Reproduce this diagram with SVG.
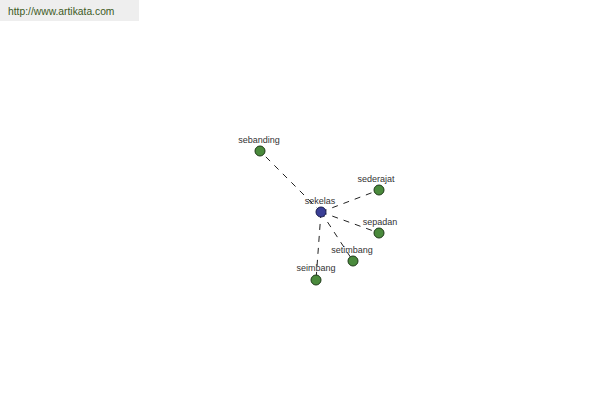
<svg xmlns="http://www.w3.org/2000/svg" width="600" height="400" viewBox="0 0 600 400">
<style>
.lbl{font-family:"Liberation Sans",Arial,sans-serif;font-size:9px;fill:#333;text-anchor:middle}
.edge{stroke:#222;stroke-width:1;stroke-dasharray:6,6;fill:none}
.leaf{fill:#4a8a3c;stroke:#1e3a18;stroke-width:1}
.hub{fill:#3a3f96;stroke:#1a1c50;stroke-width:1}
</style>
<rect width="600" height="400" fill="#fff"/>
<g id="watermark">
<rect x="0" y="0" width="139" height="21" fill="#eeeeee"/>
<text x="8" y="15" font-family="'Liberation Sans',Arial,sans-serif" font-size="10.3" fill="#3d5a1e">http://www.artikata.com</text>
</g>
<g id="connectors">
<line class="edge" x1="321" y1="212" x2="260" y2="151"/>
<line class="edge" x1="321" y1="212" x2="379" y2="190"/>
<line class="edge" x1="321" y1="212" x2="379" y2="233"/>
<line class="edge" x1="321" y1="212" x2="353" y2="261"/>
<line class="edge" x1="321" y1="212" x2="316" y2="280"/>
</g>
<g id="sebanding"><circle class="leaf" cx="260" cy="151" r="5"/><text class="lbl" x="259" y="143">sebanding</text></g>
<g id="sederajat"><circle class="leaf" cx="379" cy="190" r="5"/><text class="lbl" x="376" y="182">sederajat</text></g>
<g id="sepadan"><circle class="leaf" cx="379" cy="233" r="5"/><text class="lbl" x="380" y="225">sepadan</text></g>
<g id="setimbang"><circle class="leaf" cx="353" cy="261" r="5"/><text class="lbl" x="352" y="253">setimbang</text></g>
<g id="seimbang"><circle class="leaf" cx="316" cy="280" r="5"/><text class="lbl" x="316" y="271">seimbang</text></g>
<g id="sekelas"><circle class="hub" cx="321" cy="212" r="5"/><text class="lbl" x="320" y="204">sekelas</text></g>
</svg>
